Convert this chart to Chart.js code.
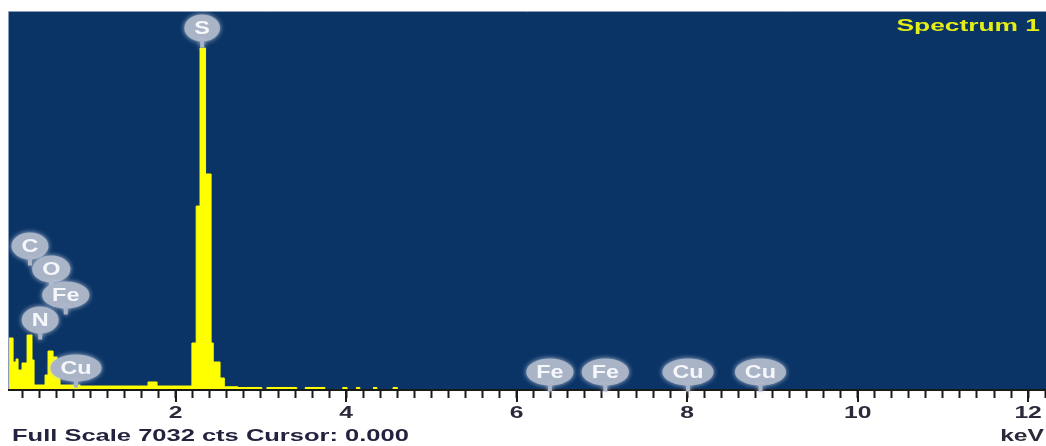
<!DOCTYPE html>
<html>
<head>
<meta charset="utf-8">
<script src="https://cdn.jsdelivr.net/npm/chart.js@4.4.1/dist/chart.umd.min.js"></script>
<style>
    html, body { margin: 0; padding: 0; background: #fff; }
    #wrap { width: 1046px; height: 446px; position: relative; }
</style>
</head>
<body>
<div id="wrap"><canvas id="myChart"></canvas></div>
<script>
// spectrum bins: start energy (keV) and counts, each bin runs to the next energy
const energyKeV = [0.045, 0.092, 0.127, 0.150, 0.197, 0.256, 0.314, 0.338, 0.467, 0.502, 0.561, 0.608, 0.643, 0.878,
    1.675, 1.781, 2.19, 2.24, 2.285, 2.35, 2.415, 2.44, 2.52, 2.57, 2.73, 3.01, 3.07, 3.42, 3.52, 3.75,
    3.96, 4.01, 4.12, 4.16, 4.32, 4.36, 4.55, 4.60, 12.21];
const counts = [967, 521, 577, 372, 502, 1023, 558, 93, 279, 725, 614, 242, 93, 74,
    149, 74, 874, 3422, 6361, 4018, 874, 521, 223, 60, 47, 0, 47, 0, 47, 0,
    47, 0, 47, 0, 47, 0, 47, 0, 0];

// element markers
const peakNames = ['S', 'C', 'O', 'Fe', 'N', 'Cu', 'Fe', 'Fe', 'Cu', 'Cu'];
const peakKeV = [2.31, 0.29, 0.54, 0.71, 0.41, 0.83, 6.39, 7.04, 8.01, 8.86];
const peakLabelCts = [6733, 2678, 2250, 1767, 1302, 409, 335, 335, 335, 335];

const majorTicks = [2, 4, 6, 8, 10, 12];
const fullScale = 7032;
const minKeV = 0.044;
const maxKeV = 12.21;
const spectrumName = 'Spectrum 1';
const footerText = 'Full Scale ' + fullScale + ' cts Cursor: 0.000';

const FONT = '"Liberation Sans", Arial, sans-serif';

function stretchText(ctx, str, px, py, align, sx) {
    ctx.save();
    ctx.translate(px, py);
    ctx.scale(sx || 1.5, 1);
    ctx.textAlign = align;
    ctx.textBaseline = 'middle';
    ctx.fillText(str, 0, 0);
    ctx.restore();
}

const spectrumDecor = {
    id: 'spectrumDecor',
    beforeDraw(chart) {
        const { ctx, chartArea: a } = chart;
        ctx.save();
        ctx.fillStyle = '#0a3466';
        ctx.fillRect(a.left, a.top, a.right - a.left, a.bottom - a.top);
        ctx.strokeStyle = '#8a9cbc';
        ctx.lineWidth = 1;
        ctx.beginPath();
        ctx.moveTo(a.left - 0.5, a.bottom);
        ctx.lineTo(a.left - 0.5, a.top - 0.5);
        ctx.lineTo(a.right, a.top - 0.5);
        ctx.stroke();
        ctx.restore();
    },
    afterDraw(chart) {
        const ctx = chart.ctx;
        const xs = chart.scales.x;
        const ys = chart.scales.y;
        const a = chart.chartArea;
        ctx.save();

        // longer major ticks
        ctx.strokeStyle = '#1a1a1a';
        ctx.lineWidth = 2;
        majorTicks.forEach(v => {
            const px = Math.round(xs.getPixelForValue(v));
            ctx.beginPath();
            ctx.moveTo(px, a.bottom);
            ctx.lineTo(px, a.bottom + 12);
            ctx.stroke();
        });

        // tick labels
        ctx.fillStyle = '#2a2a3a';
        ctx.font = 'bold 17px ' + FONT;
        majorTicks.forEach(v => {
            stretchText(ctx, String(v), xs.getPixelForValue(v), a.bottom + 23, 'center', 1.45);
        });
        stretchText(ctx, 'keV', 1044, 436, 'right', 1.45);
        ctx.fillStyle = '#23233f';
        ctx.font = 'bold 17px ' + FONT;
        stretchText(ctx, footerText, 12, 436, 'left', 1.5);

        // spectrum title
        ctx.fillStyle = '#e4ee16';
        ctx.font = 'bold 17px ' + FONT;
        stretchText(ctx, spectrumName, 1040, 26, 'right', 1.55);

        // element markers
        peakNames.forEach((name, i) => {
            const cx = xs.getPixelForValue(peakKeV[i]);
            const cy = ys.getPixelForValue(peakLabelCts[i]);
            ctx.font = 'bold 18px ' + FONT;
            const tw = ctx.measureText(name).width * 1.3;
            const w = tw + 20, h = 27;
            ctx.fillStyle = '#aab4c7';
            ctx.shadowColor = 'rgba(200,208,225,0.9)';
            ctx.shadowBlur = 5;
            ctx.beginPath();
            ctx.ellipse(cx, cy, w / 2, h / 2, 0, 0, Math.PI * 2);
            ctx.fill();
            ctx.fillRect(cx - 2, cy + h / 2 - 2, 4, 8);
            ctx.shadowBlur = 0;
            ctx.fillStyle = '#f5f7fb';
            stretchText(ctx, name, cx, cy + 1, 'center', 1.3);
        });
        ctx.restore();
    }
};

const points = energyKeV.map((e, i) => ({ x: e, y: counts[i] }));

var ctx = document.getElementById('myChart').getContext('2d');
var myChart = new Chart(ctx, {
    type: 'line',
    data: {
        datasets: [{
            data: points,
            stepped: 'before',
            fill: 'origin',
            backgroundColor: '#ffff00',
            borderColor: '#ffff00',
            borderWidth: 1,
            pointRadius: 0
        }]
    },
    options: {
        responsive: true,
        maintainAspectRatio: false,
        animation: false,
        layout: { padding: { left: 9, top: 12, right: 0, bottom: 0 } },
        plugins: { legend: { display: false }, tooltip: { enabled: false } },
        scales: {
            x: {
                type: 'linear',
                min: minKeV,
                max: maxKeV,
                afterFit: s => { s.height = 56; },
                ticks: { display: false, stepSize: 0.2, includeBounds: false },
                grid: { drawOnChartArea: false, drawTicks: true, tickLength: 8, tickWidth: 2, tickColor: '#1a1a1a' },
                border: { display: true, color: '#1a1a1a', width: 2, z: 1 }
            },
            y: { display: false, min: 0, max: fullScale }
        }
    },
    plugins: [spectrumDecor]
});
</script>
</body>
</html>
